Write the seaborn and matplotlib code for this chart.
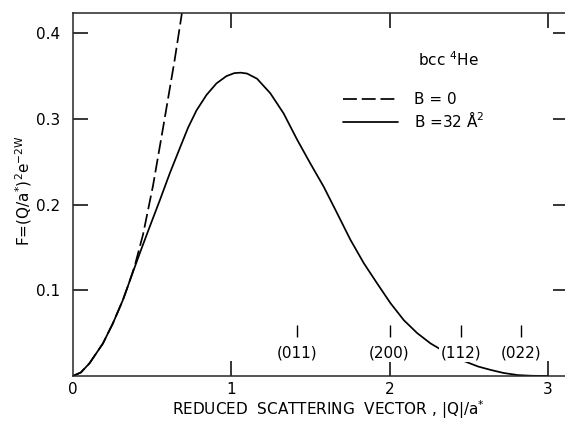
import numpy as np
import pandas as pd
import seaborn as sns
import matplotlib
matplotlib.use("Agg")
import matplotlib.pyplot as plt

# values
q_solid = [0, 0.05, 0.105, 0.19, 0.253, 0.316, 0.369, 0.422, 0.485, 0.549,
           0.612, 0.675, 0.728, 0.781, 0.844, 0.907, 0.970, 1.02, 1.06, 1.10,
           1.163, 1.247, 1.331, 1.416, 1.50, 1.584, 1.669, 1.753, 1.838,
           1.922, 2.006, 2.091, 2.175, 2.259, 2.323, 2.40, 2.48, 2.56, 2.64,
           2.72, 2.81, 2.90, 3.0]
f_solid = [0, 0.004, 0.0148, 0.038, 0.0615, 0.0887, 0.116, 0.143, 0.174,
           0.205, 0.2365, 0.2657, 0.290, 0.310, 0.328, 0.3415, 0.350, 0.3535,
           0.354, 0.353, 0.347, 0.330, 0.3065, 0.276, 0.248, 0.221, 0.190,
           0.159, 0.1315, 0.108, 0.085, 0.065, 0.050, 0.038, 0.031, 0.023,
           0.0167, 0.011, 0.007, 0.0035, 0.001, 0.0002, 0.0]

q_dash = [0, 0.05, 0.105, 0.19, 0.253, 0.316, 0.348, 0.39, 0.443, 0.506,
          0.57, 0.643, 0.70]
f_dash = [0, 0.004, 0.0148, 0.038, 0.0615, 0.0887, 0.105, 0.128, 0.165,
          0.222, 0.290, 0.369, 0.437]

bragg_pos = [np.sqrt(2), 2.0, np.sqrt(6), np.sqrt(8)]
bragg_labels = ["(011)", "(200)", "(112)", "(022)"]

series_labels = ["B = 0", "B =32 Å$^2$"]

df = pd.concat([
    pd.DataFrame({"q": q_dash, "F": f_dash, "B": series_labels[0]}),
    pd.DataFrame({"q": q_solid, "F": f_solid, "B": series_labels[1]}),
])

sns.set_style("ticks")
plt.rcParams["font.family"] = ["DejaVu Sans"]
plt.rcParams["mathtext.default"] = "regular"
plt.rcParams["text.color"] = "black"
plt.rcParams["axes.labelcolor"] = "black"

fig = plt.figure(figsize=(5.65, 4.21), dpi=100)
ax = fig.add_axes([0.129, 0.107, 0.877, 0.862])

sns.lineplot(data=df, x="q", y="F", hue="B", style="B",
             palette=["black", "black"],
             dashes={series_labels[0]: (8, 2.8), series_labels[1]: ""},
             sort=False, estimator=None, lw=1.25, ax=ax)

ax.set_xlim(0, 3.13)
ax.set_ylim(0, 0.4236)
ax.set_xticks([0, 1, 2, 3])
ax.set_xticklabels(["0", "1", "2", "3"])
ax.set_yticks([0.1, 0.2, 0.3, 0.4])
ax.set_yticklabels(["0.1", "0.2", "0.3", "0.4"])
ax.tick_params(direction="in", length=11, width=1.1, top=True, right=True,
               labelsize=11, colors="black")
ax.tick_params(axis="x", pad=4)
ax.tick_params(axis="y", pad=9)
# no tick mark at the origin, only its label
ax.xaxis.get_major_ticks()[0].tick1line.set_visible(False)
ax.xaxis.get_major_ticks()[0].tick2line.set_visible(False)
for s in ax.spines.values():
    s.set_linewidth(1.1)

ax.set_xlabel("REDUCED  SCATTERING  VECTOR , |Q|/a$^{*}$", fontsize=11)
ax.xaxis.set_label_coords(0.516, -0.062)
ax.set_ylabel("F=(Q/a$^{*}$)$^{2}$e$^{-2W}$", fontsize=11)
ax.yaxis.set_label_coords(-0.078, 0.51)

# Bragg peak markers
ax.vlines(bragg_pos, 0.045, 0.059, color="black", lw=1.0)
for x, lab in zip(bragg_pos, bragg_labels):
    ax.text(x, 0.027, lab, ha="center", va="center", fontsize=11, zorder=4,
            bbox=dict(facecolor="white", edgecolor="none", pad=1.0))

ax.text(2.18, 0.369, "bcc $^4$He", fontsize=11, va="center")
ax.legend(frameon=False, fontsize=11, handlelength=3.6, handletextpad=1.0,
          labelspacing=0.2, loc="upper left", bbox_to_anchor=(0.518, 0.82))

fig.savefig("out.png", dpi=100)
